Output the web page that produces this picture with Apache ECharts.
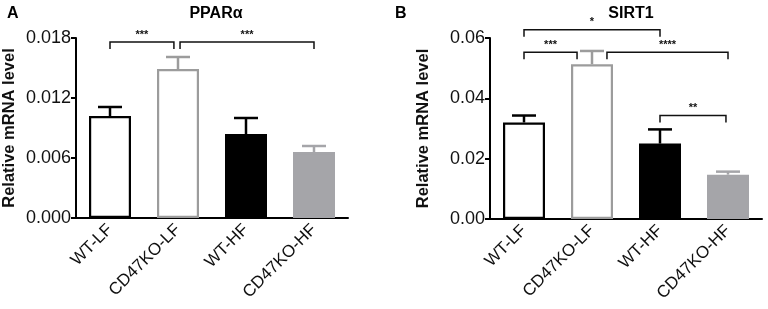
<!DOCTYPE html>
<html>
<head>
<meta charset="utf-8">
<script src="https://cdn.jsdelivr.net/npm/echarts@6/dist/echarts.min.js"></script>
<style>
  html, body { margin: 0; padding: 0; background: #fff; }
  #chart { width: 768px; height: 309px; }
</style>
</head>
<body>
<div id="chart"></div>
<script>
// groups
const categories = ['WT-LF', 'CD47KO-LF', 'WT-HF', 'CD47KO-HF'];

// panel A - PPARα
const pparMean = [0.0102, 0.0149, 0.0084, 0.0066];
const pparUpper = [0.0111, 0.0161, 0.0100, 0.0072];
const pparTicks = [0, 0.006, 0.012, 0.018];
// [from, to, level, label]  from/to in category units
const pparSig = [
  [0, 0.94, 0.0176, '***'],
  [1.03, 3, 0.0176, '***']
];

// panel B - SIRT1
const sirtMean = [0.0320, 0.0513, 0.0250, 0.0147];
const sirtUpper = [0.0343, 0.0557, 0.0297, 0.0157];
const sirtTicks = [0, 0.02, 0.04, 0.06];
const sirtSig = [
  [0, 2, 0.0627, '*'],
  [0, 0.78, 0.0553, '***'],
  [1.22, 3, 0.0553, '****'],
  [2, 2.97, 0.0343, '**']
];

// bar looks (fill, border)
const barFill = ['#ffffff', '#ffffff', '#000000', '#a5a5a9'];
const barEdge = ['#000000', '#9c9c9c', '#000000', '#a5a5a9'];

const font = 'Liberation Sans, Arial, sans-serif';

function barData(vals) {
  return vals.map((v, i) => ({
    value: v,
    itemStyle: { color: barFill[i], borderColor: barEdge[i], borderWidth: 2.2 }
  }));
}

function errData(mean, upper) {
  return mean.map((m, i) => [i, m, upper[i]]);
}

function renderErr(params, api) {
  const i = api.value(0);
  const p0 = api.coord([i, api.value(1)]);
  const p1 = api.coord([i, api.value(2)]);
  const c = barEdge[i];
  const half = 12;
  return {
    type: 'group',
    children: [
      { type: 'line', shape: { x1: p0[0], y1: p0[1], x2: p1[0], y2: p1[1] }, style: { stroke: c, lineWidth: 2.5 } },
      { type: 'line', shape: { x1: p1[0] - half, y1: p1[1], x2: p1[0] + half, y2: p1[1] }, style: { stroke: c, lineWidth: 2.5 } }
    ]
  };
}

function renderSig(params, api) {
  const base = api.coord([0, api.value(2)]);
  const band = api.size([1, 0])[0];
  const x1 = base[0] + api.value(0) * band;
  const x2 = base[0] + api.value(1) * band;
  const y = base[1];
  const drop = 7;
  return {
    type: 'group',
    children: [
      {
        type: 'polyline',
        shape: { points: [[x1, y + drop], [x1, y], [x2, y], [x2, y + drop]] },
        style: { stroke: '#111', lineWidth: 1.5, fill: null }
      },
      {
        type: 'text',
        style: {
          text: api.value(3), x: (x1 + x2) / 2, y: y - 2,
          align: 'center', verticalAlign: 'bottom',
          font: 'bold 11px ' + font, fill: '#111'
        }
      }
    ]
  };
}

function xAxisCfg(gridIndex) {
  return {
    type: 'category',
    gridIndex: gridIndex,
    data: categories,
    axisLine: { lineStyle: { color: '#000', width: 2 } },
    axisTick: { alignWithLabel: true, length: 5, lineStyle: { color: '#000', width: 2 } },
    axisLabel: { rotate: 45, fontSize: 17, color: '#111', fontFamily: font, margin: 9 }
  };
}

function yAxisCfg(gridIndex, ticks, digits) {
  return {
    type: 'value',
    gridIndex: gridIndex,
    min: ticks[0],
    max: ticks[ticks.length - 1],
    interval: ticks[1] - ticks[0],
    name: 'Relative mRNA level',
    nameLocation: 'middle',
    nameGap: 58,
    nameTextStyle: { fontSize: 16.5, fontWeight: 'bold', color: '#111', fontFamily: font },
    axisLine: { show: true, lineStyle: { color: '#000', width: 2 } },
    axisTick: { show: true, length: 5, lineStyle: { color: '#000', width: 2 } },
    splitLine: { show: false },
    axisLabel: {
      fontSize: 18, color: '#111', fontFamily: font, margin: 5,
      formatter: v => v.toFixed(digits)
    }
  };
}

const chart = echarts.init(document.getElementById('chart'));
chart.setOption({
  animation: false,
  backgroundColor: '#fff',
  title: [
    { text: 'A', left: 2, top: 1, textStyle: { fontSize: 16, fontWeight: 'bold', color: '#000', fontFamily: font } },
    { text: 'PPARα', left: 211, top: 1, textAlign: 'center', textStyle: { fontSize: 16, fontWeight: 'bold', color: '#000', fontFamily: font } },
    { text: 'B', left: 390, top: 1, textStyle: { fontSize: 16, fontWeight: 'bold', color: '#000', fontFamily: font } },
    { text: 'SIRT1', left: 626, top: 1, textAlign: 'center', textStyle: { fontSize: 16, fontWeight: 'bold', color: '#000', fontFamily: font } }
  ],
  grid: [
    { left: 76, top: 38, width: 272, height: 180 },
    { left: 490, top: 38, width: 272, height: 181 }
  ],
  xAxis: [xAxisCfg(0), xAxisCfg(1)],
  yAxis: [yAxisCfg(0, pparTicks, 3), yAxisCfg(1, sirtTicks, 2)],
  series: [
    { type: 'bar', xAxisIndex: 0, yAxisIndex: 0, barWidth: 42, data: barData(pparMean) },
    { type: 'custom', xAxisIndex: 0, yAxisIndex: 0, renderItem: renderErr, data: errData(pparMean, pparUpper), z: 3 },
    { type: 'custom', xAxisIndex: 0, yAxisIndex: 0, renderItem: renderSig, data: pparSig, encode: { x: 0, y: 2 } },
    { type: 'bar', xAxisIndex: 1, yAxisIndex: 1, barWidth: 42, data: barData(sirtMean) },
    { type: 'custom', xAxisIndex: 1, yAxisIndex: 1, renderItem: renderErr, data: errData(sirtMean, sirtUpper), z: 3 },
    { type: 'custom', xAxisIndex: 1, yAxisIndex: 1, renderItem: renderSig, data: sirtSig, encode: { x: 0, y: 2 } }
  ]
});
</script>
</body>
</html>
